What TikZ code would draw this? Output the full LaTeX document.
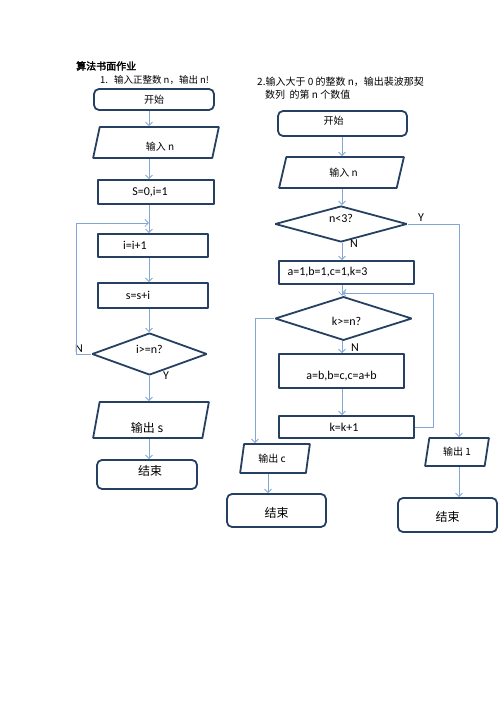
\documentclass[tikz,border=0pt]{standalone}
\usepackage{fontspec}
\setmainfont{Carlito}
\newfontfamily\cjk[AutoFakeBold=2.5]{Noto Sans CJK SC}
\usetikzlibrary{shapes.geometric,arrows.meta}
\definecolor{boxcol}{RGB}{38,64,98}
\definecolor{flowcol}{RGB}{132,166,212}
\begin{document}
\begin{tikzpicture}[>={Straight Barb[length=3.5bp,width=7bp]},line join=bevel,
  proc/.style={draw=boxcol,line width=1.8bp,rectangle,inner sep=0pt},
  term/.style={proc,rounded corners=5bp},
  io/.style={proc,trapezium,trapezium left angle=77,trapezium right angle=103,trapezium stretches=true},
  decision/.style={proc,diamond},
  flow/.style={->,draw=flowcol,line width=0.8bp},
  lat/.style={font=\fontsize{12bp}{14bp}\selectfont},
  han/.style={font=\cjk\fontsize{10bp}{12bp}\selectfont},
  hanbig/.style={font=\cjk\fontsize{12bp}{14bp}\selectfont},
  headtext/.style={anchor=west,inner sep=0pt}]
\useasboundingbox (0bp,0bp) rectangle (500bp,707bp);
%%
\node (title) at (76bp,641bp) [headtext,font=\cjk\bfseries\fontsize{10bp}{12bp}\selectfont] {算法书面作业};
\node (task1) at (100bp,627bp) [headtext,font=\cjk\fontsize{9.5bp}{11bp}\selectfont] {1.\hspace{6bp}输入正整数 n，输出 n!};
\node (task2a) at (257bp,625bp) [headtext,font=\cjk\fontsize{10bp}{12bp}\selectfont] {2.输入大于 0 的整数 n，输出裴波那契};
\node (task2b) at (265bp,612bp) [headtext,font=\cjk\fontsize{10bp}{12bp}\selectfont] {数列\ \ 的第 n 个数值};
%% first chart
\coordinate (colL) at (149bp,0bp);
\node (start1) at (154bp,607.5bp) [term,minimum width=120bp,minimum height=21bp,han] {开始};
\node (in1) at (156bp,564.5bp) [io,minimum width=126bp,minimum height=31bp,han] {\hspace*{8bp}\raisebox{-4bp}[\height][\depth]{输入 n}};
\node (init1) at (156bp,515bp) [proc,minimum width=116bp,minimum height=24bp,lat] {S=0,i=1\hspace*{12bp}};
\node (inc1) at (153bp,461.5bp) [proc,minimum width=110bp,minimum height=23bp,lat] {i=i+1\hspace*{36bp}};
\node (add1) at (153bp,411.5bp) [proc,minimum width=110bp,minimum height=25bp,lat] {s=s+i\hspace*{30bp}};
\node (test1) at (149.5bp,353bp) [decision,minimum width=115bp,minimum height=42bp,lat] {\raisebox{5bp}[\height][\depth]{i>=n?}};
\node (out1) at (151bp,287bp) [io,minimum width=116bp,minimum height=36bp,hanbig] {\raisebox{-8bp}[\height][\depth]{输出 s}\hspace*{8bp}};
\node (end1) at (147bp,232.5bp) [term,minimum width=100bp,minimum height=29bp,hanbig] {\hspace*{6bp}\raisebox{4bp}[\height][\depth]{结束}};
\node (no1) at (79bp,358bp) [lat] {N};
\node (yes1) at (166bp,331bp) [lat] {Y};
\draw [flow] (start1.south -| colL) -- (in1.north -| colL);
\draw [flow] (in1.south -| colL) -- (init1.north -| colL);
\draw [flow] (init1.south -| colL) -- (inc1.north -| colL);
\draw [flow] (inc1.south -| colL) -- (add1.north -| colL);
\draw [flow] (add1.south -| colL) -- (test1.north -| colL);
\draw [flow] (test1.south -| colL) -- (out1.north -| colL);
\draw [flow] (out1.south -| colL) -- (end1.north -| colL);
\coordinate (back1) at (76bp,484bp);
\coordinate (join1) at (149bp,484bp);
\draw [flow] (test1.west) -| (back1) -- (join1);
%% second chart
\coordinate (colR) at (342bp,0bp);
\coordinate (colC) at (268bp,0bp);
\coordinate (colY) at (459bp,0bp);
\coordinate (colN) at (255bp,0bp);
\node (start2) at (342.5bp,583.5bp) [term,minimum width=129bp,minimum height=25bp,han] {\raisebox{3bp}[\height][\depth]{开始}\hspace*{18bp}};
\node (in2) at (341.5bp,534.5bp) [io,minimum width=125bp,minimum height=31bp,han] {\hspace*{4bp}输入 n};
\node (test2) at (341bp,483bp) [decision,minimum width=132bp,minimum height=36bp,lat] {\raisebox{6bp}[\height][\depth]{n<3?}};
\node (init2) at (346.5bp,434.5bp) [proc,minimum width=135bp,minimum height=23bp,lat] {a=1,b=1,c=1,k=3\hspace*{38bp}};
\node (test3) at (343.5bp,388.5bp) [decision,minimum width=137bp,minimum height=33bp,lat] {\hspace*{6bp}\raisebox{-3bp}[\height][\depth]{k>=n?}};
\node (step2) at (341.5bp,336bp) [proc,minimum width=125bp,minimum height=34bp,lat] {\raisebox{-5bp}[\height][\depth]{a=b,b=c,c=a+b}};
\node (inc2) at (346.5bp,280bp) [proc,minimum width=135bp,minimum height=22bp,lat] {k=k+1\hspace*{5bp}};
\node (out2) at (275bp,248.5bp) [io,minimum width=70bp,minimum height=29bp,han] {输出 c\hspace*{6bp}};
\node (end2) at (276.5bp,196.5bp) [term,minimum width=99bp,minimum height=33bp,hanbig] {\raisebox{-2bp}[\height][\depth]{结束}};
\node (out3) at (457bp,255bp) [io,minimum width=64bp,minimum height=28bp,han] {输出 1};
\node (end3) at (447.5bp,192bp) [term,minimum width=99bp,minimum height=34bp,hanbig] {\raisebox{-2bp}[\height][\depth]{结束}};
\node (yes2) at (421bp,489bp) [lat] {Y};
\node (no2) at (354bp,463bp) [lat] {N};
\node (no3) at (355bp,359bp) [lat] {N};
\draw [flow] (start2.south -| colR) -- (in2.north -| colR);
\draw [flow] (in2.south -| colR) -- (test2.north -| colR);
\draw [flow] (test2.south -| colR) -- (init2.north -| colR);
\draw [flow] (init2.south -| colR) -- (test3.north -| colR);
\draw [flow] (test3.south -| colR) -- (step2.north -| colR);
\draw [flow] (step2.south -| colR) -- (inc2.north -| colR);
\draw [flow] (test2.east) -| (out3.north -| colY);
\draw [flow] (test3.west) -| (out2.north -| colN);
\draw [flow] (out2.south -| colC) -- (end2.north -| colC);
\draw [flow] (out3.south -| colY) -- (end3.north -| colY);
\coordinate (back2) at (433bp,414bp);
\coordinate (join2) at (342bp,414bp);
\draw [flow] (inc2.east) -| (back2) -- (join2);
%
\end{tikzpicture}
\end{document}
